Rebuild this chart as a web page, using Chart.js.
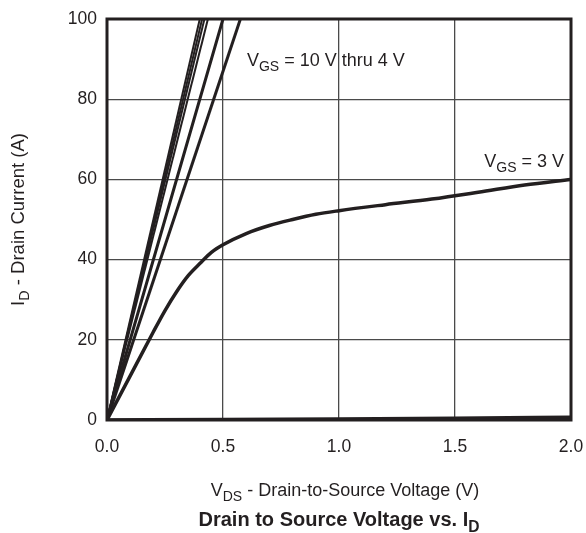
<!DOCTYPE html>
<html>
<head>
<meta charset="utf-8">
<script src="https://cdn.jsdelivr.net/npm/chart.js@4"></script>
<style>
  html, body { margin: 0; padding: 0; background: #fff; }
  #wrap { width: 586px; height: 533px; position: relative; }
</style>
</head>
<body>
<div id="wrap"><canvas id="idVdsChart"></canvas></div>
<script>
// Drain current vs drain-to-source voltage

// x ticks / y ticks
var xTicks = [0.0, 0.5, 1.0, 1.5, 2.0];
var yTicks = [0, 20, 40, 60, 80, 100];

// VGS = 10 V thru 4 V (linear region, clipped at 100 A)
var vds10 = [0, 0.400];
var id10 = [0, 100];
var vds8 = [0, 0.410];
var id8 = [0, 100];
var vds7 = [0, 0.420];
var id7 = [0, 100];
var vds6 = [0, 0.435];
var id6 = [0, 100];
var vds5 = [0, 0.500];
var id5 = [0, 100];
var vds4 = [0, 0.575];
var id4 = [0, 100];

// VGS = 3 V
var vds3 = [0, 0.1, 0.2, 0.25, 0.3, 0.35, 0.4, 0.45, 0.5, 0.6, 0.7, 0.8, 0.9, 1.0, 1.2, 1.4, 1.6, 1.8, 2.0];
var id3 = [0, 11, 22, 27.3, 32, 36, 39, 41.8, 43.7, 46.5, 48.5, 50, 51.3, 52.2, 53.7, 55.1, 56.8, 58.6, 60];

// lowest VGS curve, almost flat on the axis
var vdsLow = [0, 0.5, 1.0, 1.5, 2.0];
var idLow = [0, 0.1, 0.25, 0.45, 0.7];

var INK = '#231f20';
var FONT = '"Liberation Sans", Arial, Helvetica, sans-serif';

function pts(xs, ys) {
    return xs.map((x, i) => ({ x: x, y: ys[i] }));
}

function curve(label, xs, ys, width) {
    return {
        label: label,
        data: pts(xs, ys),
        borderColor: INK,
        borderWidth: width,
        pointRadius: 0,
        showLine: true,
        fill: false,
        tension: 0,
        cubicInterpolationMode: 'monotone'
    };
}

// text with subscript parts: [['V'], ['GS', true], [' = 3 V']]
function drawParts(ctx, parts, x, y, size, bold, align) {
    var w = 0;
    parts.forEach(p => {
        ctx.font = (bold ? 'bold ' : '') + (p[1] ? size * 0.78 : size) + 'px ' + FONT;
        w += ctx.measureText(p[0]).width;
    });
    var cx = align === 'center' ? x - w / 2 : (align === 'right' ? x - w : x);
    ctx.textBaseline = 'alphabetic';
    ctx.textAlign = 'left';
    parts.forEach(p => {
        ctx.font = (bold ? 'bold ' : '') + (p[1] ? size * 0.78 : size) + 'px ' + FONT;
        ctx.fillText(p[0], cx, p[1] ? y + size * 0.28 : y);
        cx += ctx.measureText(p[0]).width;
    });
}

var labelsPlugin = {
    id: 'labelsPlugin',
    afterDraw: function(chart) {
        var ctx = chart.ctx;
        var a = chart.chartArea;
        var xs = chart.scales.x, ys = chart.scales.y;
        ctx.save();
        // frame
        ctx.strokeStyle = INK;
        ctx.lineWidth = 3;
        ctx.strokeRect(a.left, a.top, a.right - a.left, a.bottom - a.top);

        ctx.fillStyle = INK;
        // curve labels
        drawParts(ctx, [['V'], ['GS', true], [' = 10 V thru 4 V']],
            xs.getPixelForValue(0.603), ys.getPixelForValue(88.2), 18, false, 'left');
        drawParts(ctx, [['V'], ['GS', true], [' = 3 V']],
            xs.getPixelForValue(1.97), ys.getPixelForValue(63.2), 18, false, 'right');

        // x axis title
        var mid = (a.left + a.right) / 2;
        drawParts(ctx, [['V'], ['DS', true], [' - Drain-to-Source Voltage (V)']],
            mid + 6, 496, 18, false, 'center');
        // chart title
        drawParts(ctx, [['Drain to Source Voltage vs. I'], ['D', true]],
            mid, 526, 20, true, 'center');

        // y axis title
        ctx.translate(18, (a.top + a.bottom) / 2);
        ctx.rotate(-Math.PI / 2);
        drawParts(ctx, [['I'], ['D', true], [' - Drain Current (A)']], 0, 6, 18.5, false, 'center');
        ctx.restore();
    }
};

var chart = new Chart(document.getElementById('idVdsChart'), {
    type: 'scatter',
    data: {
        datasets: [
            curve('VGS = 10 V', vds10, id10, 2),
            curve('VGS = 8 V', vds8, id8, 2),
            curve('VGS = 7 V', vds7, id7, 2),
            curve('VGS = 6 V', vds6, id6, 2),
            curve('VGS = 5 V', vds5, id5, 3),
            curve('VGS = 4 V', vds4, id4, 3),
            curve('VGS = 3 V', vds3, id3, 3.5),
            curve('VGS = 2 V', vdsLow, idLow, 3.5)
        ]
    },
    options: {
        responsive: true,
        maintainAspectRatio: false,
        animation: false,
        layout: {
            padding: { top: 19, right: 15, left: 0, bottom: 0 }
        },
        plugins: {
            legend: { display: false },
            tooltip: { enabled: false }
        },
        scales: {
            x: {
                type: 'linear',
                min: xTicks[0],
                max: xTicks[xTicks.length - 1],
                afterFit: function(scale) {
                    scale.height = 113;
                    scale.paddingLeft = 0;
                    scale.paddingRight = 0;
                },
                afterBuildTicks: function(scale) {
                    scale.ticks = xTicks.map(v => ({ value: v }));
                },
                grid: { color: '#4a4a4a', lineWidth: 1.3, drawTicks: false },
                border: { display: false },
                ticks: {
                    padding: 17,
                    color: INK,
                    font: { family: FONT, size: 17.5 },
                    callback: function(value) { return value.toFixed(1); }
                }
            },
            y: {
                type: 'linear',
                min: yTicks[0],
                max: yTicks[yTicks.length - 1],
                afterFit: function(scale) {
                    scale.width = 107;
                    scale.paddingTop = 0;
                    scale.paddingBottom = 0;
                },
                afterBuildTicks: function(scale) {
                    scale.ticks = yTicks.map(v => ({ value: v }));
                },
                grid: { color: '#4a4a4a', lineWidth: 1.3, drawTicks: false },
                border: { display: false },
                ticks: {
                    padding: 10,
                    color: INK,
                    font: { family: FONT, size: 17.5 }
                }
            }
        }
    },
    plugins: [labelsPlugin]
});
</script>
</body>
</html>
